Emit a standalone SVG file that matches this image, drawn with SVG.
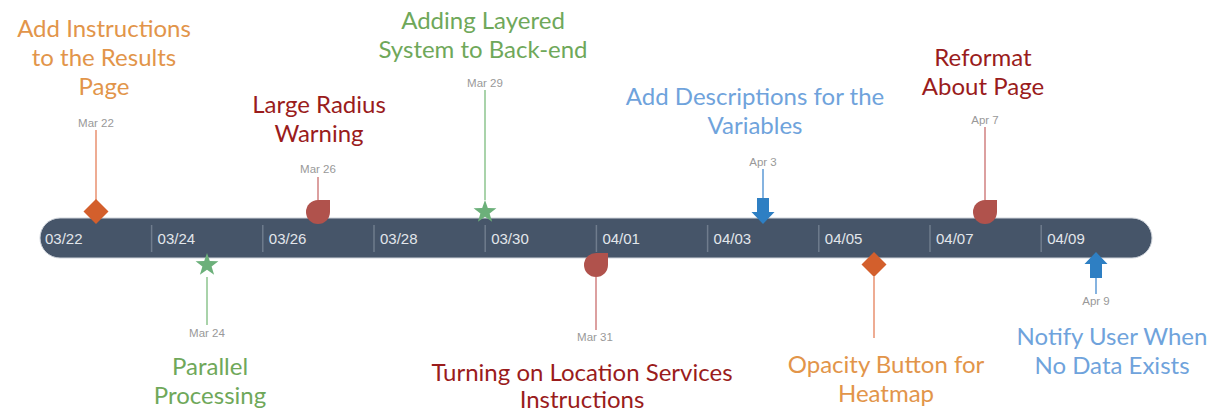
<svg xmlns="http://www.w3.org/2000/svg" width="1223" height="411" viewBox="0 0 1223 411">
<style>
.title{font-family:Lato,"Open Sans","Liberation Sans",sans-serif;font-size:24px;text-anchor:middle}
.orange{fill:#e2954a}.red{fill:#9a1c1c}.green{fill:#6fa85a}.blue{fill:#6fa3dc}
.date{font-family:"Liberation Sans",Arial,sans-serif;font-size:11.5px;fill:#999;text-anchor:middle}
.tick{stroke:#6f7c8d;stroke-width:1.5}
.ticklabel{font-family:"Liberation Sans",Arial,sans-serif;font-size:15px;fill:#e2e6eb}
.stem{stroke-width:1.5;fill:none}
</style>
<defs>
<path id="drop" d="M0,-12 H12 V0 A12,12 0 1 1 0,-12 Z" fill="#b0524c"/>
<path id="star" d="M0,-12 L2.8,-3.9 L11.4,-3.7 L4.6,1.5 L7.1,9.7 L0,4.8 L-7.1,9.7 L-4.6,1.5 L-11.4,-3.7 L-2.8,-3.9 Z" fill="#6cb07a"/>
<path id="diamond" d="M0,-12.5 L12.5,0 L0,12.5 L-12.5,0 Z" fill="#d35f2c"/>
<path id="arrowdown" d="M-6,-14 H6 V0 H11.5 L0,12 L-11.5,0 H-6 Z" fill="#2e7fc3"/>
</defs>
<rect width="1223" height="411" fill="#ffffff"/>

<g id="timeline-bar">
<rect x="40" y="218" width="1112" height="40" rx="20" fill="#465569" stroke="#cfd4db" stroke-width="1"/>
<g class="tick">
<line x1="151.6" y1="225" x2="151.6" y2="252"/>
<line x1="262.8" y1="225" x2="262.8" y2="252"/>
<line x1="374" y1="225" x2="374" y2="252"/>
<line x1="485.2" y1="225" x2="485.2" y2="252"/>
<line x1="596.4" y1="225" x2="596.4" y2="252"/>
<line x1="707.6" y1="225" x2="707.6" y2="252"/>
<line x1="818.8" y1="225" x2="818.8" y2="252"/>
<line x1="930" y1="225" x2="930" y2="252"/>
<line x1="1041.2" y1="225" x2="1041.2" y2="252"/>
</g>
<g class="ticklabel">
<text x="45" y="244">03/22</text>
<text x="157.6" y="244">03/24</text>
<text x="268.8" y="244">03/26</text>
<text x="380" y="244">03/28</text>
<text x="491.2" y="244">03/30</text>
<text x="602.4" y="244">04/01</text>
<text x="713.6" y="244">04/03</text>
<text x="824.8" y="244">04/05</text>
<text x="936" y="244">04/07</text>
<text x="1047.2" y="244">04/09</text>
</g>
</g>

<g id="connectors">
<line class="stem" x1="96" y1="130" x2="96" y2="200" stroke="#e8906f"/>
<line class="stem" x1="207" y1="277" x2="207" y2="325" stroke="#8cc48e"/>
<line class="stem" x1="318" y1="177" x2="318" y2="200" stroke="#d08080"/>
<line class="stem" x1="485" y1="90" x2="485" y2="200" stroke="#8cc48e"/>
<line class="stem" x1="596" y1="277" x2="596" y2="330" stroke="#d08080"/>
<line class="stem" x1="763" y1="169" x2="763" y2="198" stroke="#5c9ad6"/>
<line class="stem" x1="874" y1="277" x2="874" y2="338" stroke="#e8906f"/>
<line class="stem" x1="985" y1="127" x2="985" y2="200" stroke="#d08080"/>
<line class="stem" x1="1096" y1="278" x2="1096" y2="294" stroke="#5c9ad6"/>
</g>

<g id="event-mar22">
<use href="#diamond" x="96" y="211.5"/>
<text class="date" x="96" y="127">Mar 22</text>
<text class="title orange" x="104" y="37">Add Instructions</text>
<text class="title orange" x="104" y="66">to the Results</text>
<text class="title orange" x="104" y="95">Page</text>
</g>

<g id="event-mar24">
<use href="#star" x="207" y="265"/>
<text class="date" x="207" y="337">Mar 24</text>
<text class="title green" x="210" y="375">Parallel</text>
<text class="title green" x="210" y="404">Processing</text>
</g>

<g id="event-mar26">
<use href="#drop" x="318" y="212"/>
<text class="date" x="318" y="173">Mar 26</text>
<text class="title red" x="319" y="113">Large Radius</text>
<text class="title red" x="319" y="142">Warning</text>
</g>

<g id="event-mar29">
<use href="#star" x="485" y="212"/>
<text class="date" x="485" y="87">Mar 29</text>
<text class="title green" x="483" y="29">Adding Layered</text>
<text class="title green" x="483" y="58">System to Back-end</text>
</g>

<g id="event-mar31">
<use href="#drop" x="596" y="265"/>
<text class="date" x="595" y="341">Mar 31</text>
<text class="title red" x="582" y="381">Turning on Location Services</text>
<text class="title red" x="582" y="408">Instructions</text>
</g>

<g id="event-apr3">
<use href="#arrowdown" x="763" y="212"/>
<text class="date" x="763" y="166">Apr 3</text>
<text class="title blue" x="755" y="105">Add Descriptions for the</text>
<text class="title blue" x="755" y="134">Variables</text>
</g>

<g id="event-apr5">
<use href="#diamond" x="874" y="264.5"/>
<text class="title orange" x="886" y="373">Opacity Button for</text>
<text class="title orange" x="886" y="402">Heatmap</text>
</g>

<g id="event-apr7">
<use href="#drop" x="985" y="212"/>
<text class="date" x="985" y="124">Apr 7</text>
<text class="title red" x="983" y="66">Reformat</text>
<text class="title red" x="983" y="95">About Page</text>
</g>

<g id="event-apr9">
<use href="#arrowdown" x="1096" y="264" transform="rotate(180 1096 264)"/>
<text class="date" x="1096" y="305">Apr 9</text>
<text class="title blue" x="1112" y="345">Notify User When</text>
<text class="title blue" x="1112" y="374">No Data Exists</text>
</g>
</svg>
